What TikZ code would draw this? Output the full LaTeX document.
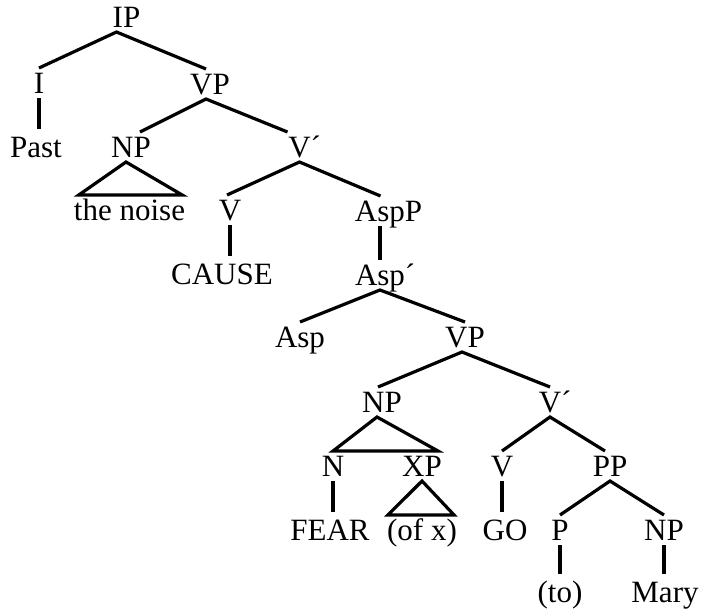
\documentclass[tikz,border=0pt]{standalone}
\usepackage{fontspec}
\setmainfont{Liberation Serif}
\begin{document}
\begin{tikzpicture}[x=1pt,y=-1pt,
	cat/.style={anchor=base,inner sep=0pt,outer ysep=5pt,text height=20pt,text depth=0pt,font=\fontsize{31}{37}\selectfont},
	edge/.style={line width=3.2pt},
	stem/.style={line width=3.2pt,shorten >=3pt}]
	\useasboundingbox (0,0) rectangle (701,611);
	%TOP
	\node[cat] (IP) at (126.5,27) {IP};
	\node[cat] (I) at (39,93) {I};
	\node[cat] (Past) at (36,157) {Past};
	\node[cat] (VP1) at (210,94) {VP};
	\node[cat] (NP1) at (131,157) {NP};
	\node[cat] (noise) at (129.5,220) {the noise};
	\node[cat] (Vbar1) at (299.5,157) {V\rlap{´}};
	\node[cat] (V1) at (230,220) {V};
	\node[cat] (CAUSE) at (222,284) {CAUSE};
	\node[cat] (AspP) at (388.5,221) {AspP};
	\node[cat] (Aspbar) at (380,285) {Asp\rlap{´}};
	\node[cat] (Asp) at (300,347) {Asp};
	%LOWER VP
	\node[cat] (VP2) at (465,347) {VP};
	\node[cat] (NP2) at (382,412) {NP};
	\node[cat] (Vbar2) at (550,412) {V\rlap{´}};
	\node[cat] (N) at (333,476) {N};
	\node[cat] (XP) at (422,476) {XP};
	\node[cat] (V2) at (502,476) {V};
	\node[cat] (PP) at (610,476) {PP};
	\node[cat] (FEAR) at (330,540) {FEAR};
	\node[cat] (ofx) at (422,540) {(of x)};
	\node[cat] (GO) at (505,540) {GO};
	\node[cat] (P) at (560,540) {P};
	\node[cat] (NP3) at (664,540) {NP};
	\node[cat] (to) at (560,602) {(to)};
	\node[cat] (Mary) at (665,602) {Mary};

	\draw[edge] (I.north) -- ([xshift=-10pt]IP.south) -- ([xshift=-4pt]VP1.north);
	\draw[stem] (I.south) -- (I.south |- Past.north);
	\draw[edge] ([xshift=9pt]NP1.north) -- ([xshift=-4pt]VP1.south) -- ([xshift=-12pt]Vbar1.north);
	\draw[edge] ([xshift=-5pt]NP1.south) -- ([xshift=5pt]noise.north west) -- ([xshift=-3pt]noise.north east) -- cycle;
	\draw[edge] ([xshift=-3pt]V1.north) -- (Vbar1.south) -- ([xshift=-8pt]AspP.north);
	\draw[stem] (V1.south) -- (V1.south |- CAUSE.north);
	\draw[edge] (Aspbar.north |- AspP.south) -- (Aspbar.north);
	\draw[edge] (Asp.north) -- (Aspbar.south) -- (VP2.north);
	%	\draw[dashed] (Asp.south) -- (Asp.south |- VP2.south);
	\draw[edge] ([xshift=-4pt]NP2.north) -- ([xshift=-3pt]VP2.south) -- (Vbar2.north);
	\draw[edge] ([xshift=-5pt]NP2.south) -- (N.north) -- ([xshift=-4pt]XP.north east) -- cycle;
	\draw[stem] (N.south) -- (N.south |- FEAR.north);
	\draw[edge] (XP.south) -- ([xshift=1pt]ofx.north west) -- ([xshift=-3pt]ofx.north east) -- cycle;
	\draw[edge] (V2.north) -- (Vbar2.south) -- ([xshift=-5pt]PP.north);
	\draw[stem] (V2.south) -- (V2.south |- GO.north);
	\draw[edge] (P.north) -- (PP.south) -- (NP3.north);
	\draw[stem] (P.south) -- (P.south |- to.north);
	\draw[stem] (NP3.south) -- (NP3.south |- Mary.north);
\end{tikzpicture}
\end{document}
